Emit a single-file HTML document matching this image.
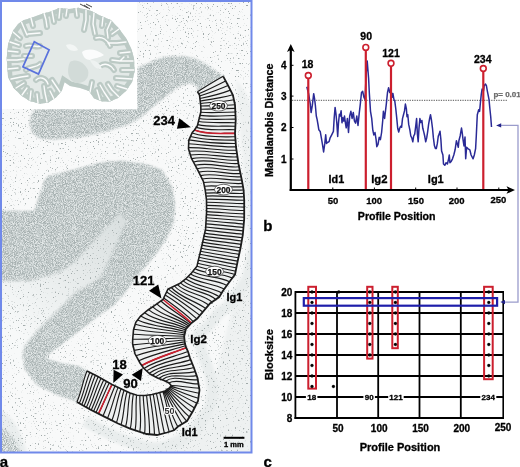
<!DOCTYPE html>
<html><head><meta charset="utf-8"><style>
html,body{margin:0;padding:0;background:#fff;width:520px;height:467px;overflow:hidden}
svg{display:block}
text{font-family:"Liberation Sans",sans-serif;font-weight:bold}
</style></head><body>
<svg style="will-change:transform" width="520" height="467" viewBox="0 0 520 467"><g>

<defs>
<filter id="st" x="0" y="0" width="520" height="467" filterUnits="userSpaceOnUse" color-interpolation-filters="sRGB">
  <feGaussianBlur in="SourceGraphic" stdDeviation="1.1" result="sg"/>
  <feTurbulence type="fractalNoise" baseFrequency="1.1" numOctaves="2" seed="4" result="t"/>
  <feColorMatrix in="t" type="matrix" values="0 0 0 0 0  0 0 0 0 0  0 0 0 0 0  -3 0 0 0 2" result="m"/>
  <feGaussianBlur in="m" stdDeviation="0.45" result="mb"/>
  <feFlood flood-color="#a7b1b1" result="f"/>
  <feComposite in="f" in2="mb" operator="in" result="dots"/>
  <feComposite in="dots" in2="sg" operator="in" result="d2"/>
  <feMerge><feMergeNode in="sg"/><feMergeNode in="d2"/></feMerge>
</filter>
<filter id="sp" x="0" y="0" width="520" height="467" filterUnits="userSpaceOnUse" color-interpolation-filters="sRGB">
  <feGaussianBlur in="SourceGraphic" stdDeviation="1.5" result="sg"/>
  <feTurbulence type="fractalNoise" baseFrequency="0.6" numOctaves="2" seed="9" result="t"/>
  <feColorMatrix in="t" type="matrix" values="0 0 0 0 0  0 0 0 0 0  0 0 0 0 0  -8 0 0 0 2.75" result="m"/>
  <feGaussianBlur in="m" stdDeviation="0.45" result="mb"/>
  <feFlood flood-color="#a0a9a9" result="f"/>
  <feComposite in="f" in2="mb" operator="in" result="dots"/>
  <feComposite in="dots" in2="sg" operator="in" result="d2"/>
  <feMerge><feMergeNode in="sg"/><feMergeNode in="d2"/></feMerge>
</filter>
<clipPath id="pa"><rect x="2" y="2" width="249" height="450"/></clipPath>
<linearGradient id="cg" x1="125" y1="215" x2="10" y2="330" gradientUnits="userSpaceOnUse"><stop offset="0" stop-color="#d9dfdf"/><stop offset="0.45" stop-color="#e6eaea"/><stop offset="1" stop-color="#f7f9f9"/></linearGradient>
</defs>
<g clip-path="url(#pa)">
<g filter="url(#sp)">
<rect x="0" y="0" width="255" height="455" fill="#f8f9f9"/>
<path d="M236,80 Q256,100 256,140 L256,456 L120,456 Q200,440 215,380 Q225,330 250,250 Z" fill="#eef1f1"/>
<path d="M0,410 Q18,418 28,456 L0,456 Z" fill="#eaeeee"/>
<polyline points="84.8,421.3 98.5,428.2 112.5,435.3 125.5,440.8 143.6,446.6 158.0,448.0 170.5,445.0 180.2,441.7 185.6,437.1 196.3,430.0 204.4,417.3 210.4,404.8 212.5,389.7 210.1,374.8 206.2,363.4 202.2,353.6 200.2,347.0 198.3,343.0 197.8,341.3 197.2,336.6 197.0,338.4 197.2,335.5 200.3,332.5 206.5,327.7 219.1,312.7 228.2,306.3 233.7,298.1 241.3,287.7 247.2,279.0 250.2,264.6 253.3,250.5 255.7,236.6 257.2,219.5 257.2,199.7 256.6,189.2" fill="none" stroke="#e9eded" stroke-width="11" stroke-linejoin="round"/>
</g>
<g filter="url(#st)">
<polygon points="0.0,211.0 34.3,211.0 44.6,180.3 49.0,176.0 74.0,169.7 103.0,162.0 123.0,161.0 148.0,164.8 162.0,170.0 171.3,185.7 175.0,203.7 173.8,221.7 167.4,237.0 157.0,252.5 144.3,268.0 134.0,280.0 124.0,294.0 112.5,306.0 100.0,314.5 88.0,324.0 74.9,334.0 53.9,350.0 45.3,357.5 48.3,359.5 60.0,363.0 79.0,366.4 87.0,371.0 77.0,402.0 75.0,401.0 57.5,395.0 37.5,385.0 24.0,368.0 22.5,359.0 0.0,359.0" fill="#e2e7e7"/>
<polygon points="35.0,109.0 137.0,109.0 137.0,68.6 151.0,62.0 162.0,57.5 173.0,56.4 184.0,56.4 195.0,58.6 206.4,64.2 215.2,70.8 223.2,76.3 197.4,91.6 197.4,86.0 190.0,83.0 180.0,86.0 169.0,93.4 156.0,104.0 140.0,118.0 126.5,125.0 107.7,131.0 80.8,137.0 53.8,139.5 40.4,138.5 32.3,133.0 29.6,124.0 31.0,116.0" fill="#e2e7e7"/>
<path d="M0,428 Q14,432 22,456 L0,456 Z" fill="#ecf0f0"/>
</g>
<g filter="url(#sp)">
<polygon points="120.0,213.0 127.0,221.0 118.0,240.0 110.0,258.0 100.0,278.0 74.9,293.0 53.9,314.0 36.0,332.0 24.0,347.0 22.5,359.0 24.0,367.8 0.0,372.0 0.0,281.0 30.0,281.0 60.0,272.0 75.0,262.0 95.0,240.0 110.0,224.0" fill="url(#cg)"/>
</g>
</g>
<rect x="2" y="2" width="135" height="107" fill="#ffffff"/>
<defs><clipPath id="bc"><polygon points="8.0,44.4 11.0,36.0 13.5,30.0 18.0,24.0 24.0,20.0 31.0,18.0 36.0,16.0 43.0,13.5 51.0,11.4 59.0,8.0 69.0,9.0 78.5,7.7 90.8,10.8 100.0,15.4 110.8,20.0 118.5,28.0 126.0,38.0 131.0,48.0 134.0,58.0 134.6,71.5 132.0,82.3 126.0,91.0 118.0,98.0 110.0,101.5 102.3,101.5 94.0,98.5 89.0,91.0 80.0,88.0 70.0,86.0 64.6,82.3 62.0,90.4 56.5,97.0 48.5,102.5 40.4,103.8 29.6,101.0 21.5,95.8 13.5,87.7 8.0,77.0 6.7,58.0"/></clipPath></defs>
<polygon points="8.0,44.4 11.0,36.0 13.5,30.0 18.0,24.0 24.0,20.0 31.0,18.0 36.0,16.0 43.0,13.5 51.0,11.4 59.0,8.0 69.0,9.0 78.5,7.7 90.8,10.8 100.0,15.4 110.8,20.0 118.5,28.0 126.0,38.0 131.0,48.0 134.0,58.0 134.6,71.5 132.0,82.3 126.0,91.0 118.0,98.0 110.0,101.5 102.3,101.5 94.0,98.5 89.0,91.0 80.0,88.0 70.0,86.0 64.6,82.3 62.0,90.4 56.5,97.0 48.5,102.5 40.4,103.8 29.6,101.0 21.5,95.8 13.5,87.7 8.0,77.0 6.7,58.0" fill="#e3e9e7"/>
<g clip-path="url(#bc)">
<path d="M21,21 L24,28 L27,35 M28,34 L40,33 M31,18 L33,26 M44,13 L46,20 L47,27 M52,11 L54,22 M60,8 L59,18 M67,9 L66,16 M76,8 L77,16 M86,10 L86,20 L84,30 M94,13 L93,24 L95,34 M103,17 L102,26 M111,21 L107,30 L108,38 M119,29 L112,34 M126,42 L117,43 L108,43 M130,52 L120,53 M133,61 L120,61 L112,60 M120,61 L124,57 M134,70 L122,70 M132,79 L116,78 M127,89 L117,86 M119,97 L112,90 L108,84 M110,101 L104,92 L100,85 M100,100 L97,90 M90,92 L92,82 M60,92 L56,86 L52,80 M54,99 L50,91 M47,102 L45,93 L44,86 M38,103 L37,94 M30,100 L31,91 M22,95 L27,88 M16,88 L24,83 M11,79 L21,77 L28,76 M8,69 L18,68 M7,60 L17,60 L24,59 M8,51 L18,52 M10,42 L19,45 M13,32 L20,38 M26,46 C32,44 36,48 40,46 M24,56 L32,56 M26,70 C30,66 36,68 40,64 M36,80 C40,76 46,78 48,84 M96,38 C102,36 108,40 110,46 M100,66 C106,62 112,66 114,70" stroke="#bccac5" stroke-width="6" fill="none" stroke-linecap="round" stroke-linejoin="round"/>
<polygon points="8.0,44.4 11.0,36.0 13.5,30.0 18.0,24.0 24.0,20.0 31.0,18.0 36.0,16.0 43.0,13.5 51.0,11.4 59.0,8.0 69.0,9.0 78.5,7.7 90.8,10.8 100.0,15.4 110.8,20.0 118.5,28.0 126.0,38.0 131.0,48.0 134.0,58.0 134.6,71.5 132.0,82.3 126.0,91.0 118.0,98.0 110.0,101.5 102.3,101.5 94.0,98.5 89.0,91.0 80.0,88.0 70.0,86.0 64.6,82.3 62.0,90.4 56.5,97.0 48.5,102.5 40.4,103.8 29.6,101.0 21.5,95.8 13.5,87.7 8.0,77.0 6.7,58.0" fill="none" stroke="#bccac5" stroke-width="9"/>
<path d="M21,21 L24,28 L27,35 M28,34 L40,33 M31,18 L33,26 M44,13 L46,20 L47,27 M52,11 L54,22 M60,8 L59,18 M67,9 L66,16 M76,8 L77,16 M86,10 L86,20 L84,30 M94,13 L93,24 L95,34 M103,17 L102,26 M111,21 L107,30 L108,38 M119,29 L112,34 M126,42 L117,43 L108,43 M130,52 L120,53 M133,61 L120,61 L112,60 M120,61 L124,57 M134,70 L122,70 M132,79 L116,78 M127,89 L117,86 M119,97 L112,90 L108,84 M110,101 L104,92 L100,85 M100,100 L97,90 M90,92 L92,82 M60,92 L56,86 L52,80 M54,99 L50,91 M47,102 L45,93 L44,86 M38,103 L37,94 M30,100 L31,91 M22,95 L27,88 M16,88 L24,83 M11,79 L21,77 L28,76 M8,69 L18,68 M7,60 L17,60 L24,59 M8,51 L18,52 M10,42 L19,45 M13,32 L20,38 M26,46 C32,44 36,48 40,46 M24,56 L32,56 M26,70 C30,66 36,68 40,64 M36,80 C40,76 46,78 48,84 M96,38 C102,36 108,40 110,46 M100,66 C106,62 112,66 114,70" stroke="#fbfcfc" stroke-width="1.4" fill="none" stroke-linecap="round" stroke-linejoin="round"/>
<path d="M70,62 C76,58 84,62 88,70 C90,78 84,84 76,83 C68,81 66,70 70,62 Z" fill="#d2dbd8"/>
<path d="M82,52 C88,48 96,49 104,55 C100,58 94,58 90,60 C86,60 83,57 82,52 Z" fill="#fbfcfc"/>
<path d="M66,45 C70,43 76,45 78,50 C74,52 68,51 66,45 Z" fill="#f3f6f5"/>
<path d="M90,60 C95,60 100,63 102,69 C98,70 93,67 90,60 Z" fill="#eef2f1"/>
</g>
<path d="M80,4 L88,8 M84,5 L90,9 M86,4 L92,7" stroke="#333" stroke-width="0.9"/>
<polygon points="34.3,41.7 49.1,49.8 38.5,74 22.9,66.8" fill="none" stroke="#5a72dc" stroke-width="1.7"/>
<polygon points="87.0,371.0 97.4,376.3 112.0,384.5 121.5,389.0 130.0,393.0 137.0,395.3 145.0,395.5 152.0,394.5 158.0,393.0 165.0,391.0 169.5,388.0 171.2,385.5 169.0,383.0 164.0,380.5 157.5,378.0 150.0,374.0 143.5,368.0 140.0,363.0 135.0,353.8 132.6,343.8 132.7,339.2 133.5,330.0 135.8,322.3 140.4,316.2 148.0,310.0 155.8,304.6 163.0,299.5 168.0,289.0 179.2,283.8 185.4,279.2 191.5,273.0 197.0,266.2 198.0,261.7 201.8,246.0 205.6,228.9 206.6,211.6 206.5,200.0 205.2,190.0 203.4,181.4 197.4,169.4 191.4,158.3 188.5,148.8 188.8,140.3 192.3,132.5 194.5,130.0 197.4,125.7 200.9,111.8 200.8,106.0 199.5,95.0 197.4,91.6 223.2,76.3 228.7,86.7 232.9,95.0 235.0,104.8 235.7,120.0 235.0,133.4 236.0,147.0 238.5,164.0 242.0,181.0 243.6,190.0 244.2,200.0 244.2,219.0 242.8,235.0 240.5,248.0 237.5,262.0 235.0,274.5 230.8,280.0 223.0,290.8 219.2,297.0 210.0,303.4 197.0,318.8 191.5,323.0 185.8,329.2 184.2,336.2 184.3,338.0 185.0,343.8 186.2,347.7 188.0,351.5 190.0,358.0 194.0,368.0 197.5,378.0 199.5,390.0 198.0,401.0 193.0,411.0 187.0,421.0 178.0,426.5 174.0,430.3 167.0,432.5 157.0,435.0 146.6,434.0 130.0,428.6 118.0,423.5 104.3,416.6 90.6,409.7 76.9,402.0" fill="#eef0f0"/>
<path d="M87.0,371.0C82.8,381.0 81.4,392.1 76.9,402.0M89.8,372.4C85.5,382.4 83.8,393.4 79.3,403.3M92.6,373.9C88.2,383.8 86.3,394.8 81.7,404.7M95.4,375.3C90.9,385.3 88.7,396.1 84.0,406.0M98.2,376.8C93.6,386.7 91.1,397.5 86.4,407.3M101.0,378.3C96.2,388.1 93.5,398.8 88.8,408.7M103.7,379.9C98.9,389.6 95.9,400.2 91.2,410.0M106.5,381.4C101.6,391.1 98.2,401.4 93.6,411.2M109.2,383.0C104.4,392.6 100.7,402.7 96.0,412.4M112.0,384.5C107.3,394.1 103.2,404.0 98.5,413.7M115.0,385.9C110.6,395.8 107.4,406.1 103.0,415.9M118.1,387.4C113.9,397.4 111.7,408.2 107.5,418.2M121.1,388.8C117.1,399.0 116.0,410.3 111.9,420.4M124.1,390.2C120.3,400.7 120.3,412.3 116.4,422.7M127.1,391.7C123.6,402.3 124.4,414.1 121.0,424.8M130.2,393.1C127.2,404.0 128.8,415.9 125.6,426.7M133.4,394.1C130.9,405.4 133.0,417.4 130.3,428.7M136.6,395.2C135.1,406.8 137.3,418.8 135.1,430.2M139.9,395.4C139.4,407.5 141.9,419.8 139.8,431.8M143.2,395.5C143.6,408.1 146.2,420.8 144.6,433.4M146.6,395.3C147.7,408.3 150.0,421.3 149.5,434.3M149.9,394.8C151.8,408.1 154.1,421.4 154.5,434.8M153.2,394.2C155.7,407.5 157.2,421.0 159.5,434.4M156.4,393.4C159.5,406.6 161.3,420.0 164.4,433.2M159.7,392.5C163.1,405.6 165.6,418.8 169.2,431.8M162.9,391.6C167.1,404.4 168.5,418.0 174.0,430.3M163.9,391.3C168.6,403.1 171.3,415.8 177.8,426.7M164.9,391.0C170.4,402.2 176.0,413.2 182.2,424.0M165.8,390.5C172.0,401.2 178.8,411.7 186.6,421.2M166.7,389.9C173.5,399.5 180.3,409.4 189.4,416.9M167.6,389.3C175.0,397.8 183.0,405.9 192.1,412.5M168.5,388.7C176.4,396.1 185.3,402.3 194.5,407.9M169.4,388.1C177.9,394.1 187.4,398.7 196.9,403.3M170.0,387.3C179.2,391.6 188.6,395.6 198.4,398.3M170.6,386.4C180.1,388.7 189.4,391.6 199.1,393.2M171.2,385.5C180.6,385.6 189.8,388.1 199.2,388.1M168.7,382.9C177.5,378.3 188.6,384.6 198.5,383.9M165.5,381.2C174.1,374.7 187.1,381.2 197.8,379.7M162.2,379.8C171.0,372.3 185.4,378.1 196.6,375.6M158.8,378.5C168.0,370.3 183.3,374.9 195.2,371.6M155.5,376.9C165.4,368.3 181.3,371.5 193.8,367.5M152.3,375.2C162.9,366.3 179.2,368.2 192.2,363.6M149.3,373.3C160.8,364.5 177.0,364.5 190.7,359.6M146.6,370.9C159.0,362.2 175.0,360.5 189.3,355.6M143.9,368.4C157.2,359.9 173.3,357.2 188.0,351.5M141.8,365.5C155.7,357.7 171.4,353.6 186.2,347.7M138.8,360.7C153.7,354.0 170.0,350.6 185.6,345.8M136.0,355.7C151.8,350.0 168.7,347.6 185.0,343.9M134.2,350.4C150.9,346.8 167.9,344.8 184.8,341.9M132.9,344.9C150.0,342.8 167.3,341.7 184.5,340.0M132.7,339.2C149.9,339.5 167.1,338.3 184.3,338.0M133.1,334.2C150.1,335.3 167.2,335.5 184.2,336.3M133.7,329.2C150.5,332.0 167.6,332.7 184.5,334.7M135.2,324.3C151.3,329.0 168.4,330.0 184.9,333.1M137.6,320.0C152.4,326.9 169.6,326.8 185.3,331.5M140.7,316.0C153.9,324.4 171.0,324.1 185.6,329.9M144.6,312.8C156.4,321.8 173.1,321.8 186.5,328.5M148.5,309.6C159.4,318.9 175.4,319.8 187.6,327.3M152.7,306.8C162.6,316.1 177.7,318.0 188.7,326.1M156.8,303.9C166.1,313.1 179.7,316.6 189.8,324.8M160.9,301.0C170.0,309.6 181.7,315.2 190.9,323.6M163.7,298.0C173.9,305.4 184.4,312.7 193.3,321.6M165.2,294.9C176.6,301.7 187.1,310.0 196.9,318.9M166.6,291.9C178.1,299.1 189.2,307.1 199.9,315.4M168.2,288.9C178.7,297.9 191.8,303.6 202.8,312.0M171.3,287.5C180.1,297.6 194.9,300.5 205.7,308.5M174.4,286.0C182.9,295.9 198.2,297.1 208.6,305.0M177.4,284.6C186.4,293.9 202.2,293.6 212.0,302.0M180.4,282.9C189.9,291.8 206.0,290.8 215.7,299.4M183.1,280.9C193.3,289.3 208.4,289.4 219.4,296.8M185.7,278.8C196.1,286.5 210.3,287.0 221.7,292.9M188.1,276.4C198.8,283.4 212.9,283.1 224.2,289.1M190.5,274.0C201.4,280.6 215.6,279.5 226.9,285.4M192.7,271.5C203.8,277.7 218.2,276.0 229.5,281.7M194.9,268.8C206.3,274.6 220.8,272.3 232.2,278.1M197.0,266.2C209.2,270.6 222.7,270.3 235.0,274.5M197.7,263.2C210.2,266.3 223.0,268.3 235.7,271.2M198.4,260.2C211.0,262.9 223.7,265.3 236.3,267.8M199.1,257.2C211.7,259.9 224.4,262.0 237.0,264.5M199.8,254.2C212.4,256.9 225.1,258.6 237.7,261.1M200.6,251.2C213.1,253.8 225.8,255.3 238.4,257.8M201.3,248.2C213.8,250.7 226.6,252.0 239.1,254.4M202.0,245.1C214.5,247.6 227.3,248.8 239.8,251.1M202.7,242.1C215.2,244.5 228.0,245.6 240.5,247.8M203.3,239.1C215.8,241.4 228.6,242.4 241.1,244.4M204.0,236.1C216.5,238.3 229.2,239.1 241.7,241.0M204.7,233.1C217.1,235.3 229.8,235.9 242.3,237.7M205.3,230.1C217.8,231.8 230.4,232.8 242.9,234.3M205.7,227.0C218.2,228.3 230.7,229.7 243.2,230.9M205.9,223.9C218.4,224.8 230.9,226.4 243.5,227.5M206.1,220.8C218.6,221.7 231.2,223.0 243.8,224.1M206.2,217.7C218.9,218.6 231.4,219.8 244.1,220.7M206.4,214.6C219.0,215.4 231.6,216.7 244.2,217.3M206.6,211.6C219.1,212.1 231.6,213.5 244.2,213.9M206.6,208.5C219.1,208.8 231.6,210.2 244.2,210.5M206.5,205.4C219.1,205.6 231.6,206.8 244.2,207.1M206.5,202.3C219.1,202.2 231.6,203.5 244.2,203.6M206.4,199.2C219.0,198.8 231.6,200.3 244.2,200.2M206.0,196.1C218.6,195.3 231.3,197.1 244.0,196.8M205.6,193.1C218.3,192.2 231.1,193.8 243.8,193.4M205.2,190.0C217.9,188.8 230.8,190.8 243.6,190.0M204.4,186.2C217.2,184.9 230.2,187.8 243.0,186.7M203.6,182.5C216.4,180.5 229.5,184.5 242.4,183.4M202.2,179.0C215.1,176.1 228.7,181.3 241.8,180.0M200.5,175.6C213.6,172.3 227.6,178.1 241.1,176.7M198.8,172.1C212.3,168.8 226.6,174.8 240.4,173.4M197.0,168.7C210.8,165.2 225.6,171.5 239.8,170.1M195.2,165.3C209.4,161.6 224.5,168.2 239.1,166.8M193.4,162.0C207.9,158.1 223.5,164.7 238.4,163.5M191.6,158.6C206.7,155.4 222.5,161.2 237.9,160.2M190.4,155.0C205.9,152.6 221.8,157.8 237.4,156.9M189.3,151.3C205.1,149.5 221.1,154.5 237.0,153.5M188.5,147.6C204.5,147.3 220.5,151.0 236.5,150.2M188.7,143.7C204.5,144.7 220.2,147.3 236.0,146.9M189.0,139.9C204.4,142.6 220.1,143.6 235.7,143.5M190.5,136.5C205.0,140.4 220.5,140.2 235.5,140.1M192.1,133.0C205.7,137.8 220.8,136.7 235.2,136.8M194.5,130.0C207.0,135.1 221.5,133.0 235.0,133.4M196.3,127.4C208.6,131.4 222.2,129.1 235.2,129.8M197.7,124.6C209.9,127.4 222.8,125.6 235.4,126.3M198.5,121.5C210.7,123.4 223.2,122.3 235.6,122.7M199.2,118.5C211.2,120.2 223.5,119.1 235.7,119.1M200.0,115.4C211.7,116.9 223.7,115.8 235.5,115.5M200.8,112.3C212.3,113.1 223.8,112.3 235.3,112.0M200.9,109.2C212.3,109.2 223.7,108.8 235.2,108.4M200.8,106.0C212.2,105.4 223.6,105.8 235.0,104.8M200.5,103.5C211.7,102.3 222.9,101.6 233.9,99.7M200.2,101.0C211.1,99.3 222.1,97.7 232.7,94.7M199.9,98.5C210.3,96.4 220.6,94.0 230.4,90.1M199.6,96.0C209.2,92.9 218.8,89.6 228.0,85.5M198.7,93.7C207.8,89.8 216.8,85.4 225.6,80.9M197.4,91.6C206.0,86.4 214.5,81.2 223.2,76.3" stroke="#1a1a1a" stroke-width="1.15" fill="none"/>
<path d="M112.0,384.5C107.3,394.1 103.2,404.0 98.5,413.7" stroke="#cc1f2e" stroke-width="1.6" fill="none"/>
<path d="M141.8,365.5C155.7,357.7 171.4,353.6 186.2,347.7" stroke="#cc1f2e" stroke-width="1.6" fill="none"/>
<path d="M163.0,299.5C172.5,307.4 182.6,314.5 191.5,323.0" stroke="#cc1f2e" stroke-width="1.6" fill="none"/>
<path d="M194.5,130.0C207.0,135.1 221.5,133.0 235.0,133.4" stroke="#cc1f2e" stroke-width="1.6" fill="none"/>
<polyline points="87.0,371.0 97.4,376.3 112.0,384.5 121.5,389.0 130.0,393.0 137.0,395.3 145.0,395.5 152.0,394.5 158.0,393.0 165.0,391.0 169.5,388.0 171.2,385.5 169.0,383.0 164.0,380.5 157.5,378.0 150.0,374.0 143.5,368.0 140.0,363.0 135.0,353.8 132.6,343.8 132.7,339.2 133.5,330.0 135.8,322.3 140.4,316.2 148.0,310.0 155.8,304.6 163.0,299.5 168.0,289.0 179.2,283.8 185.4,279.2 191.5,273.0 197.0,266.2 198.0,261.7 201.8,246.0 205.6,228.9 206.6,211.6 206.5,200.0 205.2,190.0 203.4,181.4 197.4,169.4 191.4,158.3 188.5,148.8 188.8,140.3 192.3,132.5 194.5,130.0 197.4,125.7 200.9,111.8 200.8,106.0 199.5,95.0 197.4,91.6" stroke="#1c1c1c" stroke-width="1.6" fill="none"/>
<polyline points="76.9,402.0 90.6,409.7 104.3,416.6 118.0,423.5 130.0,428.6 146.6,434.0 157.0,435.0 167.0,432.5 174.0,430.3 178.0,426.5 187.0,421.0 193.0,411.0 198.0,401.0 199.5,390.0 197.5,378.0 194.0,368.0 190.0,358.0 188.0,351.5 186.2,347.7 185.0,343.8 184.3,338.0 184.2,336.2 185.8,329.2 191.5,323.0 197.0,318.8 210.0,303.4 219.2,297.0 223.0,290.8 230.8,280.0 235.0,274.5 237.5,262.0 240.5,248.0 242.8,235.0 244.2,219.0 244.2,200.0 243.6,190.0 242.0,181.0 238.5,164.0 236.0,147.0 235.0,133.4 235.7,120.0 235.0,104.8 232.9,95.0 228.7,86.7 223.2,76.3" stroke="#1c1c1c" stroke-width="1.8" fill="none"/>
<ellipse cx="218.5" cy="105.8" rx="9" ry="5.3" fill="#fff" stroke="#333" stroke-width="0.7"/>
<text x="218.5" y="108.89999999999999" font-size="8.4" text-anchor="middle" fill="#111" stroke="#111" stroke-width="0.25">250</text>
<ellipse cx="223.5" cy="189.6" rx="9" ry="5.3" fill="#fff" stroke="#333" stroke-width="0.7"/>
<text x="223.5" y="192.7" font-size="8.4" text-anchor="middle" fill="#111" stroke="#111" stroke-width="0.25">200</text>
<ellipse cx="214.6" cy="271.5" rx="9" ry="5.3" fill="#fff" stroke="#333" stroke-width="0.7"/>
<text x="214.6" y="274.6" font-size="8.4" text-anchor="middle" fill="#111" stroke="#111" stroke-width="0.25">150</text>
<ellipse cx="157.3" cy="340.7" rx="9" ry="5.3" fill="#fff" stroke="#333" stroke-width="0.7"/>
<text x="157.3" y="343.8" font-size="8.4" text-anchor="middle" fill="#111" stroke="#111" stroke-width="0.25">100</text>
<text x="169.5" y="413.5" font-size="9" text-anchor="middle" fill="#333" stroke="#fff" stroke-width="2" paint-order="stroke">50</text>
<polygon points="179.3,118.2 176.9,128.75 190.9,127.3" fill="#000"/>
<polygon points="158.2,284.4 149,290.7 161.5,298.4" fill="#000"/>
<polygon points="113.6,369.8 123,374.5 113.3,382.9" fill="#000"/>
<polygon points="142.7,367.9 131.7,374.8 141,381.1" fill="#000"/>
<text x="153.2" y="124.7" font-size="13" fill="#000" stroke="#000" stroke-width="0.3">234</text>
<text x="132.8" y="285" font-size="13" fill="#000" stroke="#000" stroke-width="0.3">121</text>
<text x="112.3" y="368.7" font-size="13" fill="#000" stroke="#000" stroke-width="0.3">18</text>
<text x="123.2" y="388.1" font-size="13" fill="#000" stroke="#000" stroke-width="0.3">90</text>
<text x="226.4" y="300.9" font-size="11" fill="#000" stroke="#000" stroke-width="0.3">Ig1</text>
<text x="190.2" y="343.2" font-size="11.5" fill="#000" stroke="#000" stroke-width="0.3">Ig2</text>
<text x="181.8" y="436.4" font-size="11" fill="#000" stroke="#000" stroke-width="0.3">Id1</text>
<rect x="223.6" y="436.8" width="20.8" height="2" fill="#000"/>
<text x="224" y="447" font-size="7.5" fill="#000" stroke="#000" stroke-width="0.3">1 mm</text>
<rect x="1" y="1" width="250.5" height="451.5" fill="none" stroke="#7089ea" stroke-width="2"/>
<text x="-0.3" y="466.8" font-size="15" fill="#000" stroke="#000" stroke-width="0.3">a</text>
<text x="263.3" y="230.6" font-size="15" fill="#000" stroke="#000" stroke-width="0.3">b</text>
<text x="263.5" y="466.6" font-size="15" fill="#000" stroke="#000" stroke-width="0.3">c</text>
<line x1="292" y1="100.3" x2="507" y2="100.3" stroke="#444" stroke-width="0.9" stroke-dasharray="1.3,1.1"/>
<text x="493.4" y="96.9" font-size="8" fill="#6a6a6a" stroke="#6a6a6a" stroke-width="0.25">p= 0.01</text>
<polyline points="306.8,86.8 308.6,93.7 310.3,104.0 311.1,112.5 312.3,105.7 313.7,93.7 314.6,98.8 315.4,105.7 316.3,116.0 317.1,119.4 318.0,124.5 318.8,129.7 320.2,131.4 321.4,138.2 322.3,143.4 323.6,151.9 324.8,143.4 325.7,134.8 326.5,143.4 327.4,142.5 329.1,141.6 330.0,138.2 331.7,134.8 333.4,131.4 334.2,117.7 335.1,107.4 336.0,114.2 336.8,122.8 337.7,136.5 338.5,122.8 339.4,114.2 340.2,116.0 341.1,110.8 342.0,122.8 342.8,117.7 343.7,121.1 344.5,116.0 345.4,122.8 346.2,127.8 347.4,118.4 348.5,132.5 349.7,116.0 350.9,111.3 352.1,118.4 353.3,112.5 354.4,120.8 355.6,123.1 356.8,116.0 358.0,125.5 359.2,113.7 360.3,104.2 361.5,92.5 362.7,91.3 363.9,97.2 365.0,99.5 366.2,73.6 367.2,61.0 368.6,78.3 369.3,92.5 370.5,111.3 371.7,118.4 372.8,130.2 373.8,134.9 375.0,132.5 376.1,139.6 376.8,146.7 378.0,144.3 379.2,137.3 380.4,139.6 381.6,132.5 382.7,120.8 383.4,111.3 384.6,118.4 386.3,104.2 387.5,92.5 388.6,87.7 389.8,92.5 391.0,90.1 392.2,97.2 392.9,93.5 393.9,99.3 394.8,101.2 395.8,109.0 396.8,118.6 397.7,128.3 398.7,132.1 399.7,128.3 400.6,126.3 401.6,127.3 402.5,118.6 403.5,114.7 404.5,110.9 405.4,104.1 406.4,109.0 407.0,116.7 407.8,114.7 408.7,124.4 409.9,130.2 410.8,136.0 411.8,137.9 412.8,141.8 413.7,136.0 414.7,134.1 415.7,126.3 416.6,118.6 417.4,134.1 418.2,141.8 419.0,128.3 419.9,118.6 420.9,122.5 421.9,120.5 422.8,128.3 423.8,132.1 424.7,136.0 425.7,141.8 426.7,137.9 427.6,132.1 428.6,124.4 429.6,118.6 430.5,114.7 431.5,120.5 432.5,128.3 433.4,137.9 434.4,145.6 435.4,148.5 436.3,148.5 437.3,143.7 438.3,136.0 439.2,134.1 440.0,131.2 440.9,139.6 441.6,151.1 442.9,155.0 443.5,164.0 444.8,165.3 446.1,162.7 447.4,164.0 448.6,158.8 449.3,155.0 449.9,162.7 451.2,161.4 452.5,158.8 453.8,155.0 455.1,149.8 456.4,140.8 457.6,144.7 458.3,147.3 458.9,140.8 460.2,135.7 461.5,128.0 462.1,131.8 463.2,140.8 464.0,146.0 465.0,137.0 465.7,158.8 466.6,147.3 467.9,148.6 469.8,149.8 471.1,155.0 473.1,158.8 474.3,155.0 475.6,148.6 476.3,135.7 476.9,122.9 477.3,114.8 478.7,109.7 479.6,111.4 480.4,102.8 481.3,94.2 482.1,89.1 483.5,90.8 484.2,85.7 485.5,84.0 486.4,85.7 487.3,90.8 489.0,99.4 489.8,108.0 490.7,116.5 491.5,127.0" fill="none" stroke="#2a2a96" stroke-width="1.5" stroke-linejoin="round"/>
<line x1="308.3" y1="78.1" x2="308.3" y2="190" stroke="#cc1f2e" stroke-width="2.2"/>
<circle cx="308.3" cy="75.5" r="2.9" fill="#fff" stroke="#cc1f2e" stroke-width="1.6"/>
<line x1="365.8" y1="50.0" x2="365.8" y2="190" stroke="#cc1f2e" stroke-width="2.2"/>
<circle cx="365.8" cy="47.4" r="2.9" fill="#fff" stroke="#cc1f2e" stroke-width="1.6"/>
<line x1="391" y1="65.89999999999999" x2="391" y2="190" stroke="#cc1f2e" stroke-width="2.2"/>
<circle cx="391" cy="63.3" r="2.9" fill="#fff" stroke="#cc1f2e" stroke-width="1.6"/>
<line x1="483.3" y1="71.1" x2="483.3" y2="190" stroke="#cc1f2e" stroke-width="2.2"/>
<circle cx="483.3" cy="68.5" r="2.9" fill="#fff" stroke="#cc1f2e" stroke-width="1.6"/>
<line x1="290.8" y1="49" x2="290.8" y2="191" stroke="#000" stroke-width="2.2"/>
<polygon points="290.8,44 287,52 290.8,50 294.6,52" fill="#000"/>
<line x1="289.7" y1="190" x2="509" y2="190" stroke="#000" stroke-width="2.2"/>
<polygon points="515,190 506.5,186.3 508.5,190 506.5,193.8" fill="#000"/>
<line x1="291" y1="65.3" x2="293.5" y2="65.3" stroke="#000" stroke-width="1"/>
<line x1="291" y1="96.1" x2="293.5" y2="96.1" stroke="#000" stroke-width="1"/>
<line x1="291" y1="127.5" x2="293.5" y2="127.5" stroke="#000" stroke-width="1"/>
<line x1="291" y1="159" x2="293.5" y2="159" stroke="#000" stroke-width="1"/>
<line x1="332.8" y1="187.5" x2="332.8" y2="190" stroke="#000" stroke-width="1"/>
<line x1="374.4" y1="187.5" x2="374.4" y2="190" stroke="#000" stroke-width="1"/>
<line x1="415.7" y1="187.5" x2="415.7" y2="190" stroke="#000" stroke-width="1"/>
<line x1="457" y1="187.5" x2="457" y2="190" stroke="#000" stroke-width="1"/>
<line x1="498.8" y1="187.5" x2="498.8" y2="190" stroke="#000" stroke-width="1"/>
<text x="286.6" y="68.8" font-size="10" text-anchor="end" fill="#000" stroke="#000" stroke-width="0.3">4</text>
<text x="286.6" y="99.6" font-size="10" text-anchor="end" fill="#000" stroke="#000" stroke-width="0.3">3</text>
<text x="286.6" y="131.0" font-size="10" text-anchor="end" fill="#000" stroke="#000" stroke-width="0.3">2</text>
<text x="286.6" y="162.5" font-size="10" text-anchor="end" fill="#000" stroke="#000" stroke-width="0.3">1</text>
<text x="333" y="203.6" font-size="9.5" text-anchor="middle" fill="#000" stroke="#000" stroke-width="0.3">50</text>
<text x="374.2" y="203.6" font-size="9.5" text-anchor="middle" fill="#000" stroke="#000" stroke-width="0.3">100</text>
<text x="416" y="203.6" font-size="9.5" text-anchor="middle" fill="#000" stroke="#000" stroke-width="0.3">150</text>
<text x="456.6" y="203.6" font-size="9.5" text-anchor="middle" fill="#000" stroke="#000" stroke-width="0.3">200</text>
<text x="498.4" y="202.8" font-size="9.5" text-anchor="middle" fill="#000" stroke="#000" stroke-width="0.3">250</text>
<text x="396.7" y="219.6" font-size="10.6" text-anchor="middle" fill="#000" stroke="#000" stroke-width="0.3">Profile Position</text>
<text transform="translate(273.2,120.2) rotate(-90)" font-size="10.8" text-anchor="middle" fill="#000" stroke="#000" stroke-width="0.3">Mahalanobis Distance</text>
<text x="307.5" y="68.2" font-size="10.5" text-anchor="middle" fill="#000" stroke="#000" stroke-width="0.3">18</text>
<text x="366.2" y="40.3" font-size="10.5" text-anchor="middle" fill="#000" stroke="#000" stroke-width="0.3">90</text>
<text x="391" y="56.8" font-size="10.5" text-anchor="middle" fill="#000" stroke="#000" stroke-width="0.3">121</text>
<text x="482.8" y="62.5" font-size="10.5" text-anchor="middle" fill="#000" stroke="#000" stroke-width="0.3">234</text>
<text x="336.4" y="182.7" font-size="10.8" text-anchor="middle" fill="#000" stroke="#000" stroke-width="0.3">Id1</text>
<text x="379.3" y="182.7" font-size="11.3" text-anchor="middle" fill="#000" stroke="#000" stroke-width="0.3">Ig2</text>
<text x="435.8" y="182.7" font-size="11" text-anchor="middle" fill="#000" stroke="#000" stroke-width="0.3">Ig1</text>
<path d="M295,292.0H503.2M295,313.0H503.2M295,334.0H503.2M295,355.0H503.2M295,376.0H503.2M337.0,291.2V418M378.2,291.2V418M419.5,291.2V418M460.8,291.2V418" stroke="#000" stroke-width="1.8" fill="none"/>
<line x1="295" y1="397.0" x2="503.2" y2="397.0" stroke="#000" stroke-width="1.8"/>
<line x1="295.4" y1="291.1" x2="295.4" y2="418.9" stroke="#000" stroke-width="1.8"/>
<line x1="503.2" y1="291.1" x2="503.2" y2="418.9" stroke="#000" stroke-width="1.6"/>
<line x1="294.5" y1="418" x2="504" y2="418" stroke="#000" stroke-width="1.8"/>
<text x="292.3" y="295.5" font-size="10" text-anchor="end" fill="#000" stroke="#000" stroke-width="0.3">20</text>
<text x="292.3" y="316.5" font-size="10" text-anchor="end" fill="#000" stroke="#000" stroke-width="0.3">18</text>
<text x="292.3" y="337.5" font-size="10" text-anchor="end" fill="#000" stroke="#000" stroke-width="0.3">16</text>
<text x="292.3" y="358.5" font-size="10" text-anchor="end" fill="#000" stroke="#000" stroke-width="0.3">14</text>
<text x="292.3" y="379.5" font-size="10" text-anchor="end" fill="#000" stroke="#000" stroke-width="0.3">12</text>
<text x="292.3" y="400.5" font-size="10" text-anchor="end" fill="#000" stroke="#000" stroke-width="0.3">10</text>
<text x="292.3" y="421.5" font-size="10" text-anchor="end" fill="#000" stroke="#000" stroke-width="0.3">8</text>
<text x="338.0" y="431.8" font-size="10" text-anchor="middle" fill="#000" stroke="#000" stroke-width="0.3">50</text>
<text x="379.2" y="431.8" font-size="10" text-anchor="middle" fill="#000" stroke="#000" stroke-width="0.3">100</text>
<text x="420.5" y="431.8" font-size="10" text-anchor="middle" fill="#000" stroke="#000" stroke-width="0.3">150</text>
<text x="461.8" y="431.8" font-size="10" text-anchor="middle" fill="#000" stroke="#000" stroke-width="0.3">200</text>
<text x="503.0" y="431.2" font-size="10" text-anchor="middle" fill="#000" stroke="#000" stroke-width="0.3">250</text>
<text x="400" y="450.5" font-size="11" text-anchor="middle" fill="#000" stroke="#000" stroke-width="0.3">Profile Position</text>
<text transform="translate(273.3,354.6) rotate(-90)" font-size="11" text-anchor="middle" fill="#000" stroke="#000" stroke-width="0.3">Blocksize</text>
<rect x="305.9" y="394.0" width="11.5" height="6" fill="#fff"/>
<text x="311.7" y="399.9" font-size="8" text-anchor="middle" fill="#000" stroke="#000" stroke-width="0.3">18</text>
<rect x="363.4" y="394.0" width="11.5" height="6" fill="#fff"/>
<text x="369.2" y="399.9" font-size="8" text-anchor="middle" fill="#000" stroke="#000" stroke-width="0.3">90</text>
<rect x="388.2" y="394.0" width="15.5" height="6" fill="#fff"/>
<text x="396" y="399.9" font-size="8" text-anchor="middle" fill="#000" stroke="#000" stroke-width="0.3">121</text>
<rect x="480.3" y="394.0" width="16" height="6" fill="#fff"/>
<text x="488.3" y="399.9" font-size="8" text-anchor="middle" fill="#000" stroke="#000" stroke-width="0.3">234</text>
<rect x="308.3" y="286.8" width="7.7" height="101.8" fill="none" stroke="#cc1f2e" stroke-width="2"/>
<rect x="367.2" y="286.8" width="5.3" height="71.8" fill="none" stroke="#cc1f2e" stroke-width="2"/>
<rect x="392.3" y="286.8" width="5.5" height="61.4" fill="none" stroke="#cc1f2e" stroke-width="2"/>
<rect x="484.1" y="286.8" width="8.6" height="92.4" fill="none" stroke="#cc1f2e" stroke-width="2"/>
<g fill="#000" stroke="#000" stroke-width="0.3"><circle cx="312.0" cy="386.5" r="1.45"/><circle cx="312.0" cy="376.0" r="1.45"/><circle cx="312.0" cy="365.5" r="1.45"/><circle cx="312.0" cy="355.0" r="1.45"/><circle cx="312.0" cy="344.5" r="1.45"/><circle cx="312.0" cy="334.0" r="1.45"/><circle cx="312.0" cy="323.5" r="1.45"/><circle cx="312.0" cy="313.0" r="1.45"/><circle cx="312.0" cy="302.5" r="1.45"/><circle cx="312.0" cy="292.0" r="1.45"/><circle cx="369.8" cy="355.0" r="1.45"/><circle cx="369.8" cy="344.5" r="1.45"/><circle cx="369.8" cy="334.0" r="1.45"/><circle cx="369.8" cy="323.5" r="1.45"/><circle cx="369.8" cy="313.0" r="1.45"/><circle cx="369.8" cy="302.5" r="1.45"/><circle cx="369.8" cy="292.0" r="1.45"/><circle cx="395.4" cy="344.5" r="1.45"/><circle cx="395.4" cy="334.0" r="1.45"/><circle cx="395.4" cy="323.5" r="1.45"/><circle cx="395.4" cy="313.0" r="1.45"/><circle cx="395.4" cy="302.5" r="1.45"/><circle cx="395.4" cy="292.0" r="1.45"/><circle cx="488.8" cy="376.0" r="1.45"/><circle cx="488.8" cy="365.5" r="1.45"/><circle cx="488.8" cy="355.0" r="1.45"/><circle cx="488.8" cy="344.5" r="1.45"/><circle cx="488.8" cy="334.0" r="1.45"/><circle cx="488.8" cy="323.5" r="1.45"/><circle cx="488.8" cy="313.0" r="1.45"/><circle cx="488.8" cy="302.5" r="1.45"/><circle cx="488.8" cy="292.0" r="1.45"/><circle cx="333.4" cy="386.5" r="1.45"/><circle cx="338.8" cy="292.0" r="1.45"/></g>
<rect x="303.8" y="298.1" width="193.3" height="7.6" fill="none" stroke="#1e1eaa" stroke-width="2.2"/>
<path d="M500.5,125.4H518V302.1H504.4" fill="none" stroke="#9a9ccc" stroke-width="1.3"/>
<polygon points="496.1,125.4 501.2,123.2 501.2,127.6" fill="#23238a"/>
<polygon points="500.3,302.1 505,299.9 505,304.3" fill="#23238a"/>
</g></svg></body></html>
